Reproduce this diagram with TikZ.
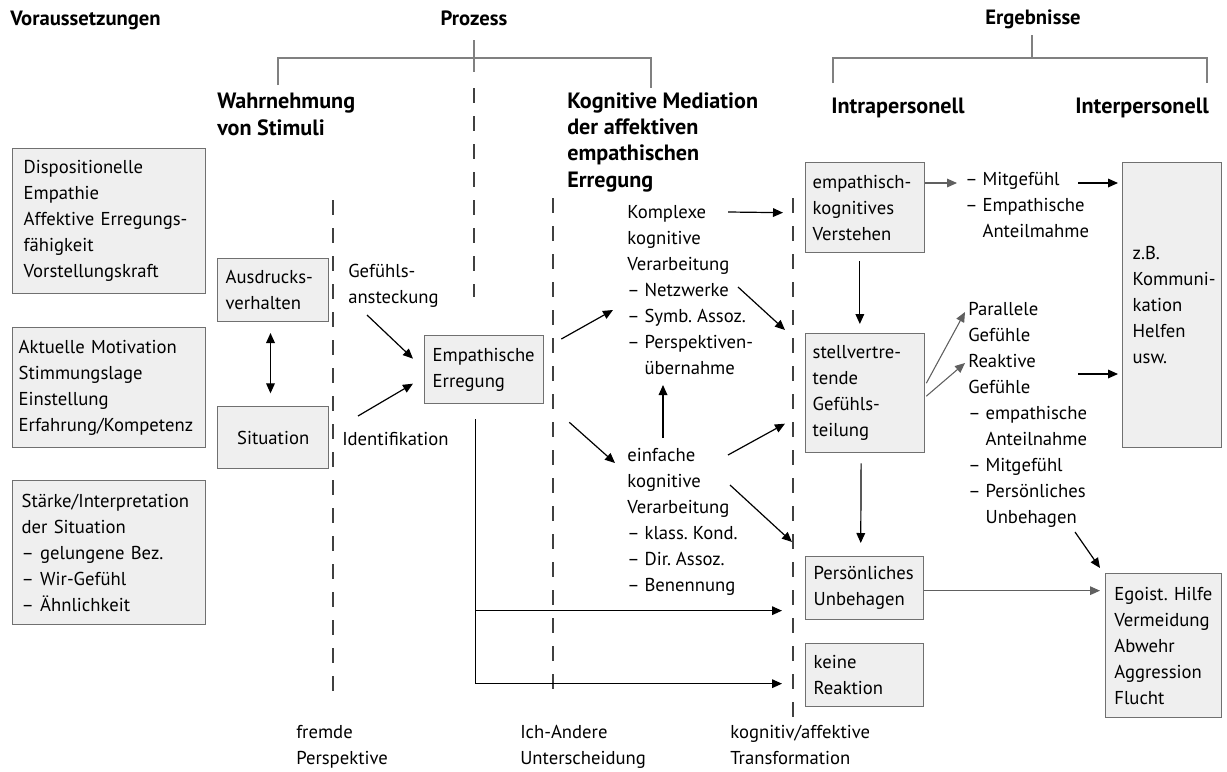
\documentclass[tikz,border=0pt]{standalone}
\usepackage{fontspec}
\setmainfont{PT Sans}
\usetikzlibrary{arrows.meta,calc}
\definecolor{boxfill}{HTML}{EFEFEF}
\definecolor{boxline}{HTML}{707070}
\definecolor{bracket}{HTML}{808080}
\definecolor{softarrow}{HTML}{606060}
\frenchspacing
\begin{document}
\begin{tikzpicture}[x=0.75pt,y=-0.75pt,
  every node/.style={font=\fontsize{14}{19.5}\selectfont},
  % multi-line labels are placed by the baseline of their last line
  lbl/.style={anchor=base west, align=left, inner sep=0pt},
  title/.style={lbl, font=\fontsize{15.5}{19.5}\selectfont\bfseries},
  head/.style={lbl, font=\fontsize{16.6}{19.7}\selectfont\bfseries},
  box/.style={draw=boxline, fill=boxfill, line width=1pt, anchor=north west,
              align=left, inner xsep=6pt, inner ysep=0pt},
  arr/.style={-{Triangle[length=7.5pt,width=6.5pt]}, line width=0.9pt},
  soft/.style={arr, draw=softarrow, fill=softarrow, line width=0.8pt},
  divider/.style={dash pattern=on 11pt off 10pt, line width=0.9pt, draw=black!75},
  brace/.style={draw=bracket, line width=1.1pt}]

\useasboundingbox (0,0) rectangle (1227,771);

% ---- headings ----
\node[title] (tVor) at (10,25) {Voraussetzungen};
\node[title, anchor=base] (tProz) at (474,25) {Prozess};
\node[title, anchor=base] (tErg) at (1033,24) {Ergebnisse};
\node[head] (tWahr) at (217,135) {Wahrnehmung\\von Stimuli};
\node[head] (tKog) at (567,187) {Kognitive Mediation\\der affektiven\\empathischen\\Erregung};
\node[head] (tIntra) at (831,113) {Intrapersonell};
\node[head] (tInter) at (1075,113) {Interpersonell};

% ---- brackets ----
\draw[brace] (278,85) -- (278,58) -- (651,58) -- (651,88);
\draw[brace] (474,40) -- (474,72);
\draw[brace] (833,83) -- (833,58) -- (1207,58) -- (1207,83);
\draw[brace] (1032,35) -- (1032,58);

% ---- dividing dashed lines ----
\draw[divider] (474,88) -- (474,297);
\draw[divider] (333,200) -- (333,700);
\draw[divider] (553,198) -- (553,699);
\draw[divider] (793,198) -- (793,718);

% ---- preconditions ----
\node[box, inner xsep=8.25pt, minimum width=144.75pt, minimum height=108.75pt, text width=128.25pt] (disp) at (12,148)
  {Dispositionelle\\Empathie\\\mbox{Affektive Erregungs-}\\fähigkeit\\Vorstellungskraft};
\node[box, inner xsep=4.5pt, minimum width=144.75pt, minimum height=90pt, text width=135.75pt] (motiv) at (12,327)
  {\mbox{Aktuelle Motivation}\\Stimmungslage\\Einstellung\\\mbox{Erfahrung/Kompetenz}};
\node[box, inner xsep=6.75pt, minimum width=144.75pt, minimum height=108pt, text width=131.25pt] (staerke) at (12,480)
  {\mbox{Stärke/Interpretation}\\der Situation\\– gelungene Bez.\\– Wir-Gefühl\\– Ähnlichkeit};

% ---- perception of stimuli ----
\node[box, minimum width=83.25pt, minimum height=47.25pt, text width=71.25pt] (ausdr) at (217,258)
  {\mbox{Ausdrucks-}\\verhalten};
\node[box, align=center, minimum width=83.25pt, minimum height=46.5pt, text width=71.25pt] (sit) at (217,406)
  {Situation};
\node[lbl] (gef) at (348,303) {\mbox{Gefühls-}\\ansteckung};
\node[lbl] (ident) at (342,445) {Identifikation};
\node[box, minimum width=89.25pt, minimum height=51pt, text width=77.25pt] (emp) at (424,335)
  {Empathische\\Erregung};

% ---- cognitive mediation ----
\node[lbl] (komplex) at (627,374)
  {Komplexe\\kognitive\\Verarbeitung\\– Netzwerke\\– Symb. Assoz.\\\mbox{– Perspektiven-}\\\phantom{– }übernahme};
\node[lbl] (einfach) at (627,591)
  {einfache\\kognitive\\Verarbeitung\\– klass. Kond.\\– Dir. Assoz.\\– Benennung};

% ---- intrapersonal results ----
\node[box, inner xsep=5.25pt, minimum width=89.25pt, minimum height=67.5pt, text width=78.75pt] (verst) at (805,162)
  {\mbox{empathisch-}\\kognitives\\Verstehen};
\node[box, inner xsep=5.25pt, minimum width=89.25pt, minimum height=89.25pt, text width=78.75pt] (stell) at (805,333)
  {\mbox{stellvertre-}\\tende\\\mbox{Gefühls-}\\teilung};
\node[box, minimum width=88.5pt, minimum height=47.25pt, text width=76.5pt] (unbeh) at (805,556)
  {\mbox{Persönliches}\\Unbehagen};
\node[box, minimum width=88.5pt, minimum height=47.25pt, text width=76.5pt] (keine) at (805,643)
  {keine\\Reaktion};
\node[lbl] (mitg) at (965,237) {– Mitgefühl\\– Empathische\\\phantom{– }Anteilmahme};
\node[lbl] (gefuehle) at (968,523)
  {Parallele\\Gefühle\\Reaktive\\Gefühle\\– empathische\\\phantom{– }Anteilnahme\\– Mitgefühl\\– Persönliches\\\phantom{– }Unbehagen};

% ---- interpersonal results ----
\node[box, inner xsep=7.5pt, minimum width=74.25pt, minimum height=213.75pt, text width=59.25pt] (zb) at (1122,162)
  {z.B.\\\mbox{Kommuni-}\\kation\\Helfen\\usw.};
\node[box, inner xsep=6.5pt, minimum width=87pt, minimum height=108pt, text width=74pt] (ego) at (1105,573)
  {\mbox{Egoist. Hilfe}\\Vermeidung\\Abwehr\\Aggression\\Flucht};

% ---- bottom captions ----
\node[lbl] (fremde) at (296,764) {fremde\\Perspektive};
\node[lbl] (ichand) at (520,764) {Ich-Andere\\Unterscheidung};
\node[lbl] (transf) at (730,764) {kognitiv/affektive\\Transformation};

% ---- free ends of connectors ----
\coordinate (gs) at (367,315);
\coordinate (is) at (358,416);
\coordinate (kt) at (613,310);
\coordinate (et) at (615,463);
\coordinate (ks) at (728,212);
\coordinate (ns) at (738,287);
\coordinate (es) at (728,455);
\coordinate (vs) at (730,485);
\coordinate (eu) at (663,438);
\coordinate (ku) at (663,385);
\coordinate (m1) at (957,183);
\coordinate (m2) at (1078,183);
\coordinate (m3) at (1078,374);
\coordinate (p1) at (965,312);
\coordinate (p2) at (965,363);
\coordinate (u1) at (1075,532);
\coordinate (ue) at ($(unbeh.east)+(0,2.5)$);
\coordinate (vj) at ($(emp.south)+(-8.5,15)$);

% ---- connectors ----
\draw[{Triangle[length=7.5pt,width=6.5pt]}-{Triangle[length=7.5pt,width=6.5pt]}, line width=0.9pt,
      shorten <=8pt, shorten >=9.5pt] ([xshift=-2pt]ausdr.south) -- ([xshift=-2pt]sit.north);
\draw[arr] (gs) -- ($(emp.west)+(-11,-11)$);
\draw[arr] (is) -- ($(emp.west)+(-11,14)$);
\draw[arr] ($(emp.north east)+(17,4)$) -- (kt);
\draw[arr] ($(emp.south east)+(25,18)$) -- (et);
\draw[arr] (eu) -- (ku);
\draw[arr] (ks) -- ($(verst.west)+(-22,5)$);
\draw[arr] (ns) -- ($(stell.north west)+(-20,-3)$);
\draw[arr] (es) -- ($(stell.west)+(-20,30.5)$);
\draw[arr] (vs) -- ($(unbeh.north west)+(-13,-14)$);
\draw[arr] (vj) |- ($(unbeh.west)+(-23,22.5)$);
\draw[arr] (vj) |- ($(keine.west)+(-23,8.5)$);

\draw[soft] (verst.east |- m1) -- (m1);
\draw[arr, shorten >=3pt] (m2) -- (m2 -| zb.west);
\draw[arr, shorten <=6pt, shorten >=6.75pt] ([xshift=-4pt]verst.south) -- ([xshift=-4pt]stell.north);
\draw[soft] ($(stell.east)+(1,-10)$) -- (p1);
\draw[soft] ($(stell.east)+(1,3)$) -- (p2);
\draw[arr, shorten >=3pt] (m3) -- (m3 -| zb.west);
\draw[arr, shorten <=7.5pt, shorten >=9.75pt] ([xshift=-3pt]stell.south) -- ([xshift=-3pt]unbeh.north);
\draw[soft, shorten >=3.75pt] (ue) -- (ue -| ego.west);
\draw[arr] (u1) -- ($(ego.north west)+(-5,-5)$);
\end{tikzpicture}
\end{document}
